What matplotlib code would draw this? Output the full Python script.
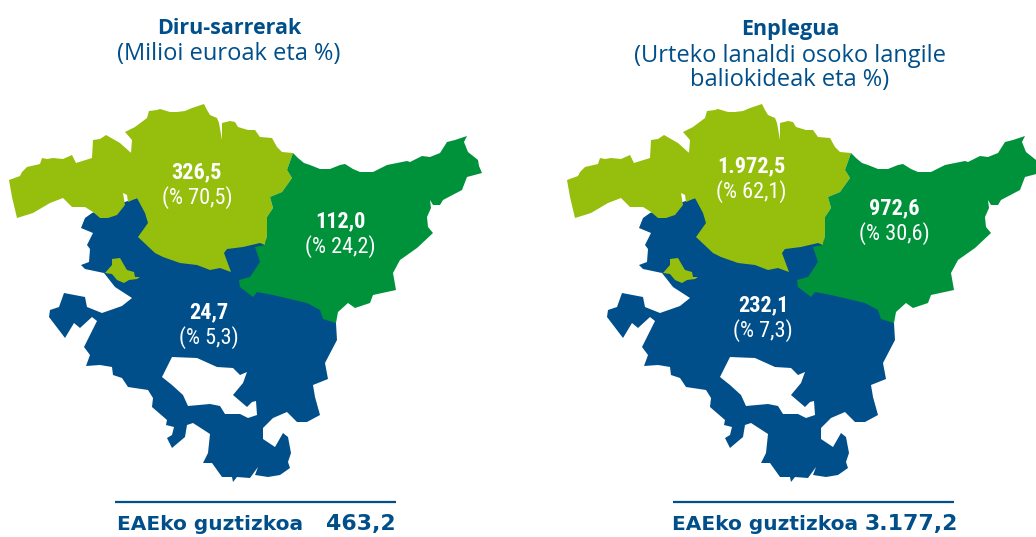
import matplotlib
matplotlib.use("Agg")
import matplotlib.pyplot as plt
from matplotlib.patches import Polygon, PathPatch
from matplotlib.path import Path

YELLOW = "#96BE0D"
GREEN = "#00923A"
BLUE = "#004F8A"

titles = ["Diru-sarrerak", "Enplegua"]
subtitles = [["(Milioi euroak eta %)"], ["(Urteko lanaldi osoko langile", "baliokideak eta %)"]]
total_label = "EAEko guztizkoa"
totals = ["463,2", "3.177,2"]
values_income = ["326,5", "112,0", "24,7"]
shares_income = ["(% 70,5)", "(% 24,2)", "(% 5,3)"]
values_jobs = ["1.972,5", "972,6", "232,1"]
shares_jobs = ["(% 62,1)", "(% 30,6)", "(% 7,3)"]

# Territory outlines
bizkaia = [(9,180),(20,176),(22,172),(27,167),(40,164),(42,158),(47,159),(53,158),(63,159),(72,155),(76,163),(92,158),(93,140),(100,139),(106,135),(120,143),(130,152),(139,158),(131,153),(132,140),(125,132),(135,127),(147,118),(149,111),(157,110),(160,109),(170,112),(177,112),(185,111),(192,108),(204,104),(207,110),(210,115),(217,118),(219,123),(222,140),(222,123),(230,121),(235,122),(238,127),(248,130),(255,130),(260,137),(272,138),(277,147),(282,152),(293,153),(287,170),(292,178),(282,192),(270,197),(273,208),(267,217),(267,235),(265,245),(260,243),(243,247),(227,249),(224,253),(231,272),(220,268),(210,270),(197,265),(180,263),(163,257),(155,253),(138,237),(148,223),(145,213),(137,198),(128,202),(127,195),(123,193),(125,205),(117,215),(108,218),(100,218),(93,212),(85,207),(72,207),(63,198),(50,203),(33,213),(17,218),(12,197)]
enclave = [(105,273),(112,265),(112,259),(120,258),(124,265),(127,270),(134,272),(135,277),(140,277),(137,279),(129,280),(124,283),(117,280),(112,274)]
gipuzkoa = [(293,153),(298,158),(304,163),(310,165),(320,169),(330,169),(340,165),(345,164),(353,169),(360,172),(373,172),(387,165),(407,161),(410,162),(422,156),(430,157),(440,153),(447,142),(455,140),(467,136),(464,142),(468,152),(478,160),(479,166),(482,173),(467,177),(462,190),(443,200),(440,205),(433,205),(430,200),(431,208),(427,217),(428,227),(433,233),(417,248),(400,260),(393,273),(396,290),(373,295),(370,303),(355,308),(348,303),(338,312),(336,323),(323,319),(320,310),(307,303),(273,295),(257,292),(253,297),(240,287),(239,280),(250,277),(260,262),(255,247),(265,245),(267,235),(267,217),(273,208),(270,197),(282,192),(292,178),(287,170)]
araba = [(92,213),(85,218),(81,228),(93,233),(87,245),(90,249),(89,262),(81,265),(85,269),(104,273),(115,287),(132,298),(122,306),(102,313),(87,307),(85,297),(64,293),(59,307),(50,310),(49,317),(65,338),(74,323),(80,328),(92,317),(97,321),(84,347),(90,355),(86,366),(100,365),(112,367),(113,375),(122,378),(128,387),(148,390),(153,398),(152,407),(167,420),(166,425),(174,427),(172,435),(167,438),(172,448),(185,437),(187,425),(193,423),(210,434),(208,453),(203,463),(212,463),(222,477),(232,477),(233,482),(237,477),(250,478),(258,467),(255,475),(268,477),(280,475),(290,468),(288,462),(291,453),(288,437),(283,433),(275,447),(263,439),(263,428),(273,418),(287,412),(297,422),(307,422),(320,415),(315,397),(313,385),(328,379),(325,363),(337,340),(336,323),(323,300),(267,240),(200,230),(137,198),(100,210)]
trevino = [(172,357),(197,358),(217,367),(233,368),(240,375),(247,372),(243,383),(233,395),(247,407),(252,402),(256,401),(257,415),(248,418),(240,414),(225,414),(220,406),(210,404),(188,406),(183,395),(172,385),(162,377),(167,367)]

fig = plt.figure(figsize=(10.36, 5.37), dpi=100)
ax = fig.add_axes([0, 0, 1, 1])
ax.set_xlim(0, 1036)
ax.set_ylim(537, 0)
ax.axis("off")

NARROW = "Roboto Condensed"
TITLE = "Open Sans"

def ring(points, dx):
    pts = [(x + dx, y) for x, y in points]
    return pts + [pts[0]], [Path.MOVETO] + [Path.LINETO] * (len(pts) - 1) + [Path.CLOSEPOLY]

def draw_map(dx, values, shares, label_xy):
    v1, c1 = ring(araba, dx)
    v2, c2 = ring(trevino, dx)
    ax.add_patch(PathPatch(Path(v1 + v2, c1 + c2), facecolor=BLUE, edgecolor="none"))
    ax.add_patch(Polygon([(x + dx, y) for x, y in bizkaia], facecolor=YELLOW, edgecolor="none"))
    ax.add_patch(Polygon([(x + dx, y) for x, y in enclave], facecolor=YELLOW, edgecolor="none"))
    ax.add_patch(Polygon([(x + dx, y) for x, y in gipuzkoa], facecolor=GREEN, edgecolor="none"))
    for (x, y), val, share in zip(label_xy, values, shares):
        ax.text(x, y, val, color="white", family=NARROW, weight="bold", fontsize=16, ha="center", va="center")
        ax.text(x, y + 26, share, color="white", family=NARROW, fontsize=16, ha="center", va="center")

draw_map(0, values_income, shares_income, [(197, 172), (340, 221), (209, 312)])
draw_map(558, values_jobs, shares_jobs, [(751, 166), (894, 208), (763, 305)])

for cx, ty, title, subs in zip([229, 790], [28, 30], titles, subtitles):
    ax.text(cx, ty, title, color=BLUE, family=TITLE, weight="bold", fontsize=15.5, ha="center", va="center")
    for i, s in enumerate(subs):
        ax.text(cx, ty + 26 + i * 24, s, color=BLUE, family=TITLE, fontsize=17, ha="center", va="center")

for x0, x1, tx, rx, total in zip([115, 673], [396, 954], [117, 672], [396, 958], totals):
    ax.plot([x0, x1], [502, 502], color=BLUE, lw=1.6, solid_capstyle="butt")
    ax.text(tx, 524, total_label, color=BLUE, family="DejaVu Sans", weight="bold", fontsize=14.5, ha="left", va="center")
    ax.text(rx, 524, total, color=BLUE, family="DejaVu Sans", weight="bold", fontsize=15.8, ha="right", va="center")

fig.savefig("out.png", dpi=100)
